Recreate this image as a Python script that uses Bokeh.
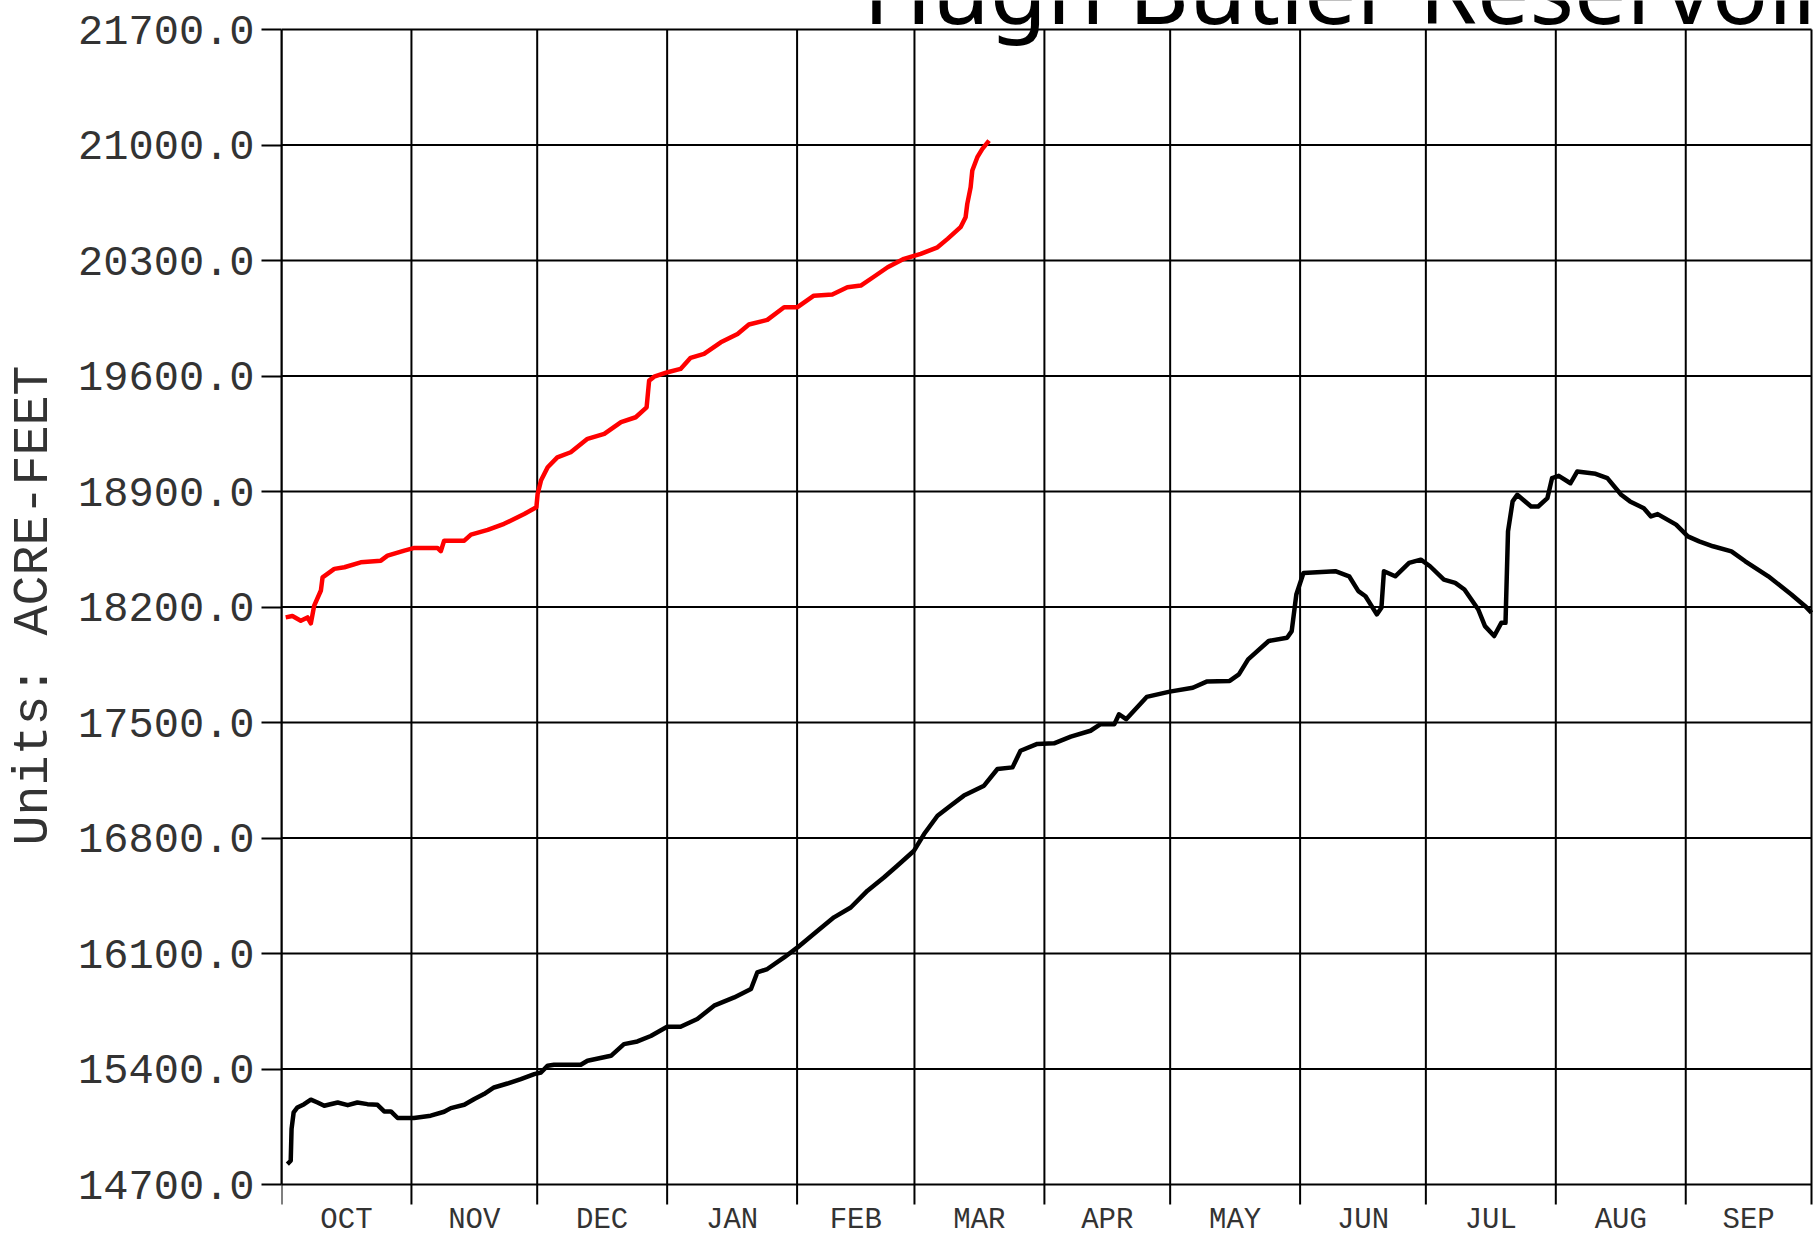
from bokeh.plotting import figure
from bokeh.models import Range1d, FixedTicker, NumeralTickFormatter
from bokeh.core.properties import value
from bokeh.embed import file_html
from bokeh.resources import INLINE

# ---- data -------------------------------------------------------------
month_names = ["OCT", "NOV", "DEC", "JAN", "FEB", "MAR",
               "APR", "MAY", "JUN", "JUL", "AUG", "SEP"]
month_days = [31, 30, 31, 31, 28, 31, 30, 31, 30, 31, 31, 30]
y_ticks = [14700, 15400, 16100, 16800, 17500, 18200,
           18900, 19600, 20300, 21000, 21700]
title_text = "Hugh Butler Reservoir"
y_label = "Units: ACRE-FEET"

# previous water year (black), day-of-water-year vs storage (acre-feet)
black_day = [1.4, 2.2, 2.4, 2.9, 3.8, 5.4, 7.0, 8.6, 10.2, 13.4, 15.8, 18.1,
             20.5, 22.9, 24.5, 26.1, 27.7, 31.6, 35.6, 38.8, 40.4, 43.6, 46.0,
             48.3, 50.7, 53.9, 57.1, 60.3, 61.9, 63.5, 65.0, 71.4, 73.0, 78.6,
             81.7, 84.9, 88.1, 92.0, 95.2, 99.2, 103.2, 108.0, 112.0, 113.5,
             115.9, 119.9, 123.1, 127.9, 131.8, 135.8, 139.8, 143.7, 146.9,
             150.9, 153.3, 156.5, 159.6, 162.8, 167.6, 170.8, 174.4, 176.3,
             180.3, 184.3, 188.3, 193.0, 195.4, 198.7, 199.8, 201.5, 206.4,
             211.9, 217.4, 220.7, 226.2, 228.4, 230.6, 235.5, 239.9, 241.0,
             242.1, 243.8, 251.4, 254.7, 256.9, 258.6, 261.3, 262.4, 263.0,
             265.7, 269.0, 271.8, 274.0, 277.3, 280.0, 282.2, 285.5, 287.1,
             289.3, 291.0, 292.0, 292.6, 293.7, 294.8, 298.1, 299.8, 302.0,
             303.1, 304.7, 307.5, 309.1, 313.5, 316.3, 319.6, 321.7, 325.0,
             326.7, 328.3, 332.7, 335.5, 338.2, 341.5, 345.9, 349.2, 354.7,
             360.2, 363.5, 365.0]
black_val = [14824, 14844, 15036, 15137, 15167, 15187, 15214, 15197, 15177,
             15197, 15181, 15197, 15187, 15183, 15143, 15143, 15103, 15103,
             15117, 15141, 15163, 15183, 15218, 15248, 15288, 15312, 15339,
             15369, 15379, 15420, 15426, 15426, 15450, 15480, 15551, 15567,
             15600, 15656, 15656, 15703, 15784, 15834, 15885, 15985, 16006,
             16076, 16137, 16238, 16319, 16379, 16481, 16561, 16632, 16723,
             16824, 16935, 16996, 17057, 17117, 17218, 17228, 17329, 17370,
             17374, 17414, 17450, 17490, 17490, 17550, 17520, 17655, 17687,
             17711, 17748, 17752, 17792, 17883, 17994, 18014, 18054, 18276,
             18406, 18417, 18386, 18296, 18265, 18155, 18195, 18417, 18386,
             18467, 18487, 18447, 18366, 18346, 18306, 18185, 18084, 18024,
             18104, 18104, 18658, 18840, 18880, 18809, 18809, 18860, 18981,
             18995, 18950, 19021, 19007, 18981, 18880, 18840, 18799, 18749,
             18763, 18699, 18628, 18598, 18568, 18537, 18477, 18386, 18276,
             18205, 18165]

# current water year (red)
red_day = [1.0, 2.6, 4.6, 6.2, 7.0, 7.8, 9.4, 9.8, 12.6, 15.0, 18.9, 23.7,
           25.3, 29.3, 31.7, 37.2, 38.0, 38.8, 43.6, 45.2, 49.2, 53.1, 57.9,
           60.8, 61.1, 61.9, 63.5, 65.8, 69.0, 73.0, 77.0, 81.0, 84.5, 87.1,
           87.7, 88.9, 92.1, 95.2, 97.6, 100.8, 104.8, 108.8, 111.5, 115.9,
           119.9, 123.1, 127.0, 131.4, 135.0, 138.2, 141.4, 144.6, 148.5,
           152.5, 156.5, 158.9, 162.0, 163.2, 163.6, 164.4, 164.8, 166.0,
           167.2, 168.8]
red_val = [18137, 18145, 18117, 18137, 18101, 18208, 18300, 18380, 18431,
           18441, 18471, 18481, 18511, 18542, 18558, 18558, 18538, 18602,
           18602, 18639, 18667, 18704, 18764, 18804, 18885, 18966, 19047,
           19107, 19138, 19219, 19249, 19320, 19350, 19410, 19572, 19596,
           19623, 19643, 19710, 19734, 19804, 19855, 19912, 19940, 20017,
           20017, 20087, 20094, 20138, 20148, 20203, 20259, 20310, 20340,
           20380, 20431, 20502, 20562, 20643, 20744, 20845, 20926, 20977,
           21027]

# ---- layout constants (pixels) ----------------------------------------
W, H = 1816, 1239
LEFT = 281            # pixel x of day 0
RIGHT = 1811          # pixel x of the last day
FRAME_BOTTOM = 1210   # bottom of the drawing frame (month names below it)
PLOT_TOP = 29         # pixel y of the top value
PLOT_BOTTOM = 1184    # pixel y of the bottom value
TICK_LEN = 20
TITLE_X_DAY = 138.8
TITLE_RAISE = 42      # px from the top line to the title anchor

bounds = [0]
for d in month_days:
    bounds.append(bounds[-1] + d)
mids = [(bounds[i] + bounds[i + 1]) / 2 for i in range(len(month_days))]

ppu = (PLOT_BOTTOM - PLOT_TOP) / (y_ticks[-1] - y_ticks[0])   # px per acre-foot
y_start = y_ticks[0] - (FRAME_BOTTOM - PLOT_BOTTOM) / ppu
y_end = y_ticks[-1] + PLOT_TOP / ppu
ppd = (RIGHT - LEFT) / bounds[-1]                               # px per day
x_end = bounds[-1] + (W - RIGHT) / ppd

MONO = "Liberation Mono"

p = figure(width=W, height=H,
           x_range=Range1d(0, x_end), y_range=Range1d(y_start, y_end),
           output_backend="svg", toolbar_location=None,
           min_border_left=LEFT, min_border_right=0,
           min_border_top=0, min_border_bottom=H - FRAME_BOTTOM)
p.background_fill_color = "white"
p.border_fill_color = "white"
p.outline_line_color = None
p.xgrid.visible = False
p.ygrid.visible = False

# horizontal grid lines (incl. top and bottom border), ending at the last day
p.segment(x0=[bounds[0]] * len(y_ticks), y0=y_ticks,
          x1=[bounds[-1]] * len(y_ticks), y1=y_ticks,
          line_color="black", line_width=2)

# vertical month lines, with tick marks below the bottom line
p.segment(x0=bounds, y0=[y_ticks[-1]] * len(bounds),
          x1=bounds, y1=[y_ticks[0] - TICK_LEN / ppu] * len(bounds),
          line_color="black", line_width=2)

# x axis: only the month names, centred in each month
xa = p.xaxis[0]
xa.ticker = FixedTicker(ticks=mids, minor_ticks=[])
xa.major_label_overrides = {m: n for m, n in zip(mids, month_names)}
xa.axis_line_color = None
xa.major_tick_line_color = None
xa.major_tick_out = 0
xa.major_tick_in = 0
xa.minor_tick_out = 0
xa.minor_tick_in = 0
xa.major_label_standoff = -7
xa.major_label_text_font = MONO
xa.major_label_text_font_size = "29px"
xa.major_label_text_color = "#333333"

# y axis
ya = p.yaxis[0]
ya.bounds = (y_ticks[0], y_ticks[-1])
ya.ticker = FixedTicker(ticks=y_ticks, minor_ticks=[])
ya.formatter = NumeralTickFormatter(format="0.0")
ya.major_tick_out = TICK_LEN
ya.major_tick_in = 0
ya.major_tick_line_color = "black"
ya.major_tick_line_width = 2
ya.axis_line_color = "black"
ya.axis_line_width = 2
ya.major_label_text_font = MONO
ya.major_label_text_font_size = "42px"
ya.major_label_text_color = "#333333"
ya.major_label_standoff = 7
ya.axis_label = y_label
ya.axis_label_text_font = MONO
ya.axis_label_text_font_size = "50px"
ya.axis_label_text_font_style = "normal"
ya.axis_label_text_color = "#333333"
ya.axis_label_standoff = 13

# data
p.line(black_day, black_val, line_color="black", line_width=4.5, line_join="round")
p.line(red_day, red_val, line_color="#ff0000", line_width=4.5, line_join="round")

# title (partly cut by the top / right edges, as in the original)
p.text(x=[TITLE_X_DAY], y=[y_ticks[-1] + TITLE_RAISE / ppu], text=[title_text],
       text_align="left", text_baseline="alphabetic",
       text_font=value("Noto Sans"), text_font_size=value("93px"),
       text_color="black")

open("out.html", "w").write(file_html(p, INLINE))
